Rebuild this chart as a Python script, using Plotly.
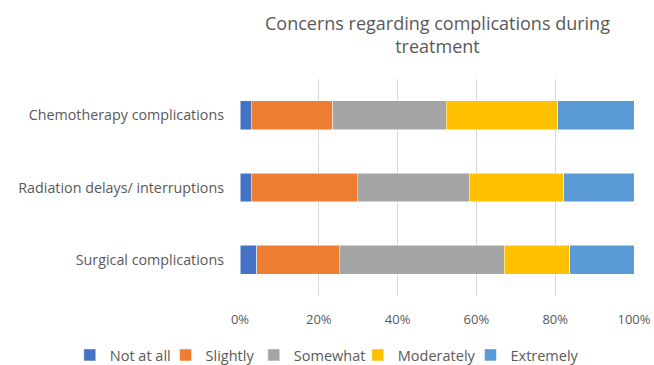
import plotly.graph_objects as go

# Survey responses (percent of respondents) per concern
categories = ["Chemotherapy complications", "Radiation delays/ interruptions", "Surgical complications"]
not_at_all = [2.8, 2.8, 4.2]
slightly = [20.8, 27.0, 21.0]
somewhat = [28.7, 28.4, 41.9]
moderately = [28.3, 24.0, 16.6]
extremely = [19.4, 17.8, 16.3]

series = [
    ("Not at all", not_at_all, "#4472C4"),
    ("Slightly", slightly, "#ED7D31"),
    ("Somewhat", somewhat, "#A5A5A5"),
    ("Moderately", moderately, "#FFC000"),
    ("Extremely", extremely, "#5B9BD5"),
]

font_family = "Open Sans, Lato, sans-serif"
text_color = "#595959"

# Each series gets its own legend box so the entries can be spaced like a
# compact single-row key below the axis (positions in paper units).
legend_ids = ["legend", "legend2", "legend3", "legend4", "legend5"]
legend_x = [-0.432, -0.189, 0.035, 0.299, 0.585]

fig = go.Figure()
for (name, vals, color), lid in zip(series, legend_ids):
    fig.add_trace(go.Bar(
        y=categories,
        x=[v / 100 for v in vals],
        name=name,
        orientation="h",
        marker=dict(color=color, line=dict(color="white", width=0.5)),
        width=0.4,
        legend=lid,
    ))

legend_layout = {}
for lid, lx in zip(legend_ids, legend_x):
    legend_layout[lid] = dict(
        orientation="h",
        xref="paper", x=lx, xanchor="left",
        yref="paper", y=-0.272, yanchor="middle",
        itemwidth=30,
        bgcolor="rgba(0,0,0,0)",
        font=dict(size=14.5, color=text_color),
    )

fig.update_layout(
    barmode="stack",
    width=654,
    height=365,
    margin=dict(l=240, r=20, t=79, b=69, autoexpand=False),
    paper_bgcolor="white",
    plot_bgcolor="white",
    font=dict(family=font_family, color=text_color, size=14),
    annotations=[dict(
        text="Concerns regarding complications during<br>treatment",
        xref="paper", x=0.5, xanchor="center",
        yref="paper", y=1.205, yanchor="middle",
        showarrow=False,
        font=dict(size=18, color=text_color, family=font_family),
    )],
    xaxis=dict(
        range=[0, 1],
        tickvals=[0, 0.2, 0.4, 0.6, 0.8, 1.0],
        tickformat=".0%",
        showgrid=True,
        gridcolor="#D9D9D9",
        gridwidth=1,
        zeroline=False,
        showline=False,
        ticks="",
        automargin=False,
        ticklabelstandoff=14,
        tickfont=dict(size=13, color=text_color),
    ),
    yaxis=dict(
        autorange="reversed",
        showgrid=False,
        showline=False,
        ticks="",
        automargin=False,
        ticklabelstandoff=15,
        tickfont=dict(size=14.3, color=text_color),
    ),
    showlegend=True,
    **legend_layout,
)

fig.write_html("out.html")
